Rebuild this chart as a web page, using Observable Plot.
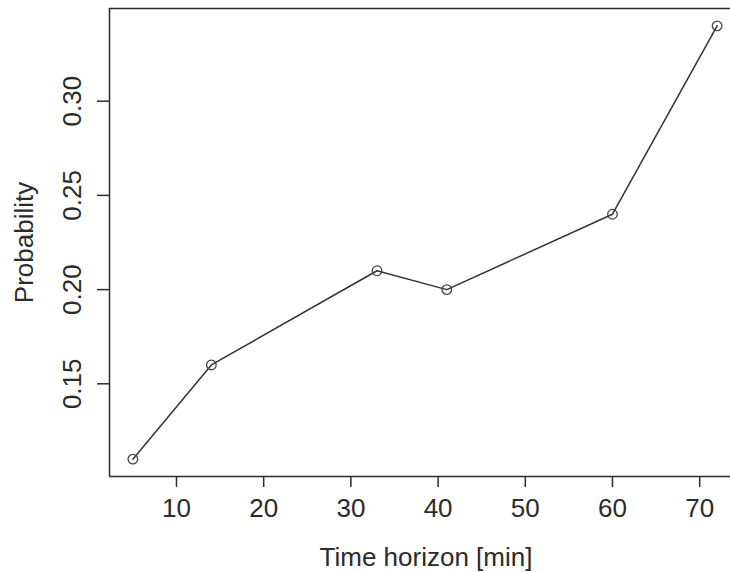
<!DOCTYPE html>
<html>
<head>
<meta charset="utf-8">
<script src="https://cdn.jsdelivr.net/npm/d3@7"></script>
<script src="https://cdn.jsdelivr.net/npm/@observablehq/plot@0.6"></script>
<style>
  html, body { margin: 0; padding: 0; background: #fff; }
  #chart svg { display: block; overflow: hidden; }
</style>
</head>
<body>
<div id="chart"></div>
<script>
// Data
const horizon = [5, 14, 33, 41, 60, 72];
const probability = [0.11, 0.16, 0.21, 0.20, 0.24, 0.34];
const xTicks = [10, 20, 30, 40, 50, 60, 70];
const yTicks = [0.15, 0.20, 0.25, 0.30];
const yTickLabels = ["0.15", "0.20", "0.25", "0.30"];
const xLabel = "Time horizon [min]";
const yLabel = "Probability";

const data = horizon.map((h, i) => ({h, p: probability[i]}));

// R-style 4% axis extension
const xExt = (d3.max(horizon) - d3.min(horizon)) * 0.04;
const yExt = (d3.max(probability) - d3.min(probability)) * 0.04;
const xDomain = [d3.min(horizon) - xExt, d3.max(horizon) + xExt];
const yDomain = [d3.min(probability) - yExt, d3.max(probability) + yExt];

const ink = "#2b2b2b";
const font = "'Liberation Sans', Arial, Helvetica, sans-serif";
const fs = 26;

const chart = Plot.plot({
  width: 730,
  height: 572,
  marginLeft: 109,
  marginRight: 0,
  marginTop: 8,
  marginBottom: 96,
  style: {fontFamily: font, background: "#fff", color: ink},
  x: {domain: xDomain, range: [109, 740], axis: null},
  y: {domain: yDomain, axis: null},
  marks: [
    // box
    Plot.ruleY([yDomain[0], yDomain[1]], {stroke: ink, strokeWidth: 1.5}),
    Plot.ruleX([xDomain[0]], {stroke: ink, strokeWidth: 1.5}),
    // ticks
    Plot.axisX({ticks: xTicks, tickSize: 11, fill: "none", label: null, stroke: ink, strokeWidth: 1.5, anchor: "bottom"}),
    Plot.axisY({ticks: yTicks, tickSize: 12, fill: "none", label: null, stroke: ink, strokeWidth: 1.5, anchor: "left"}),
    // tick labels
    Plot.text(xTicks, {x: d => d, frameAnchor: "bottom", dy: 32, lineAnchor: "middle", textAnchor: "middle", fontSize: fs, fill: ink}),
    Plot.text(yTicks, {y: d => d, text: (d, i) => yTickLabels[i], frameAnchor: "left", dx: -37, rotate: -90, lineAnchor: "middle", textAnchor: "middle", fontSize: fs, fill: ink}),
    // axis titles
    Plot.text([xLabel], {frameAnchor: "bottom", dx: 6, dy: 81, lineAnchor: "middle", textAnchor: "middle", fontSize: fs, fill: ink}),
    Plot.text([yLabel], {frameAnchor: "left", dx: -85, rotate: -90, lineAnchor: "middle", textAnchor: "middle", fontSize: fs, fill: ink}),
    // data
    Plot.line(data, {x: "h", y: "p", stroke: "#333", strokeWidth: 1.5}),
    Plot.dot(data, {x: "h", y: "p", r: 4.8, stroke: "#444", strokeWidth: 1.3, fill: "none"})
  ]
});
document.getElementById("chart").appendChild(chart);
</script>
</body>
</html>
